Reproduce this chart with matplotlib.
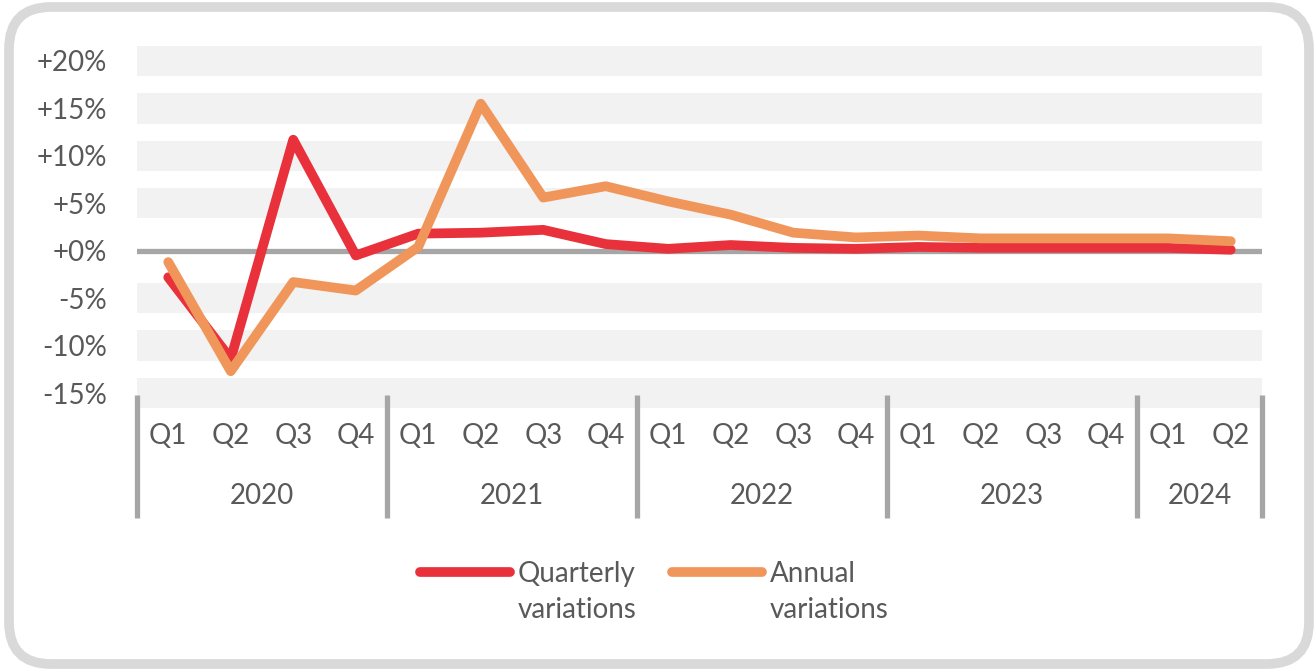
import matplotlib
matplotlib.use('Agg')
import matplotlib.pyplot as plt
import matplotlib.transforms as mtransforms
from matplotlib.patches import FancyBboxPatch
from matplotlib.lines import Line2D

plt.rcParams['font.family'] = ['Lato', 'DejaVu Sans']

# dados
anos = ['2020', '2021', '2022', '2023', '2024']
trimestres = ['Q1', 'Q2', 'Q3', 'Q4'] * 4 + ['Q1', 'Q2']
trimestral = [-2.8, -11.4, 11.7, -0.5, 1.8, 1.9, 2.2, 0.7,
              0.2, 0.6, 0.3, 0.2, 0.4, 0.3, 0.3, 0.3, 0.3, 0.1]
anual = [-1.2, -12.7, -3.3, -4.2, 0.4, 15.5, 5.6, 6.8,
         5.2, 3.8, 1.9, 1.4, 1.6, 1.3, 1.3, 1.3, 1.3, 1.0]
yticks = [20, 15, 10, 5, 0, -5, -10, -15]
ytick_labels = ['+20%', '+15%', '+10%', '+5%', '+0%', '-5%', '-10%', '-15%']

cor_texto = '#595959'
cor_eixo = '#A6A6A6'
vermelho = '#E8313A'
laranja = '#F0965A'
tam = 20

fig = plt.figure(figsize=(13.14, 6.71), dpi=100)
ax = fig.add_axes([137/1314, 1 - 408.2/671, 1125/1314, 362.4/671])

# faixas cinzas
for t in yticks:
    if t != 0:
        ax.axhspan(t - 1.6, t + 1.6, color='#F2F2F2', lw=0, zorder=0)
ax.axhline(0, color=cor_eixo, lw=3.8, zorder=1)

x = list(range(len(trimestral)))
ax.plot(x, trimestral, color=vermelho, lw=7, solid_capstyle='round',
        solid_joinstyle='round', zorder=3)
ax.plot(x, anual, color=laranja, lw=7, solid_capstyle='round',
        solid_joinstyle='round', zorder=4)

ax.set_xlim(-0.5, len(x) - 0.5)
ax.set_ylim(-16.6, 21.6)
ax.set_yticks(yticks)
ax.set_yticklabels(ytick_labels)
ax.set_xticks(x)
ax.set_xticklabels(trimestres)
ax.tick_params(length=0, labelsize=tam, colors=cor_texto)
ax.tick_params(axis='y', pad=21.5)
ax.tick_params(axis='x', pad=11)
for s in ax.spines.values():
    s.set_visible(False)

# separadores de anos e rotulos
trans = mtransforms.blended_transform_factory(ax.transData, ax.transAxes)
fronteiras = [-0.5, 3.5, 7.5, 11.5, 15.5, 17.5]
for b in fronteiras:
    ax.plot([b, b], [0.0364, -0.303], color=cor_eixo, lw=3.8,
            transform=trans, clip_on=False, solid_capstyle='butt')
for i, ano in enumerate(anos):
    centro = (fronteiras[i] + fronteiras[i + 1]) / 2
    ax.text(centro, -0.242, ano, transform=trans, ha='center', va='center',
            fontsize=tam, color=cor_texto)

# legenda manual
itens = [(420, 510, 518, vermelho, 'Quarterly\nvariations'),
         (672, 762, 770, laranja, 'Annual\nvariations')]
for x0, x1, xt, cor, label in itens:
    fig.add_artist(Line2D([x0/1314, x1/1314], [1 - 572/671, 1 - 572/671],
                          color=cor, lw=7, solid_capstyle='round'))
    fig.text(xt/1314, 1 - 561/671, label, ha='left', va='top', fontsize=tam,
             color=cor_texto, linespacing=1.5)

# moldura arredondada
moldura = FancyBboxPatch((9 + 42, 7 + 42), 1300 - 84, 657 - 84,
                         boxstyle='round,pad=42', fill=False,
                         edgecolor='#D9D9D9', lw=7,
                         transform=mtransforms.IdentityTransform())
fig.add_artist(moldura)

fig.savefig('out.png', dpi=100)
